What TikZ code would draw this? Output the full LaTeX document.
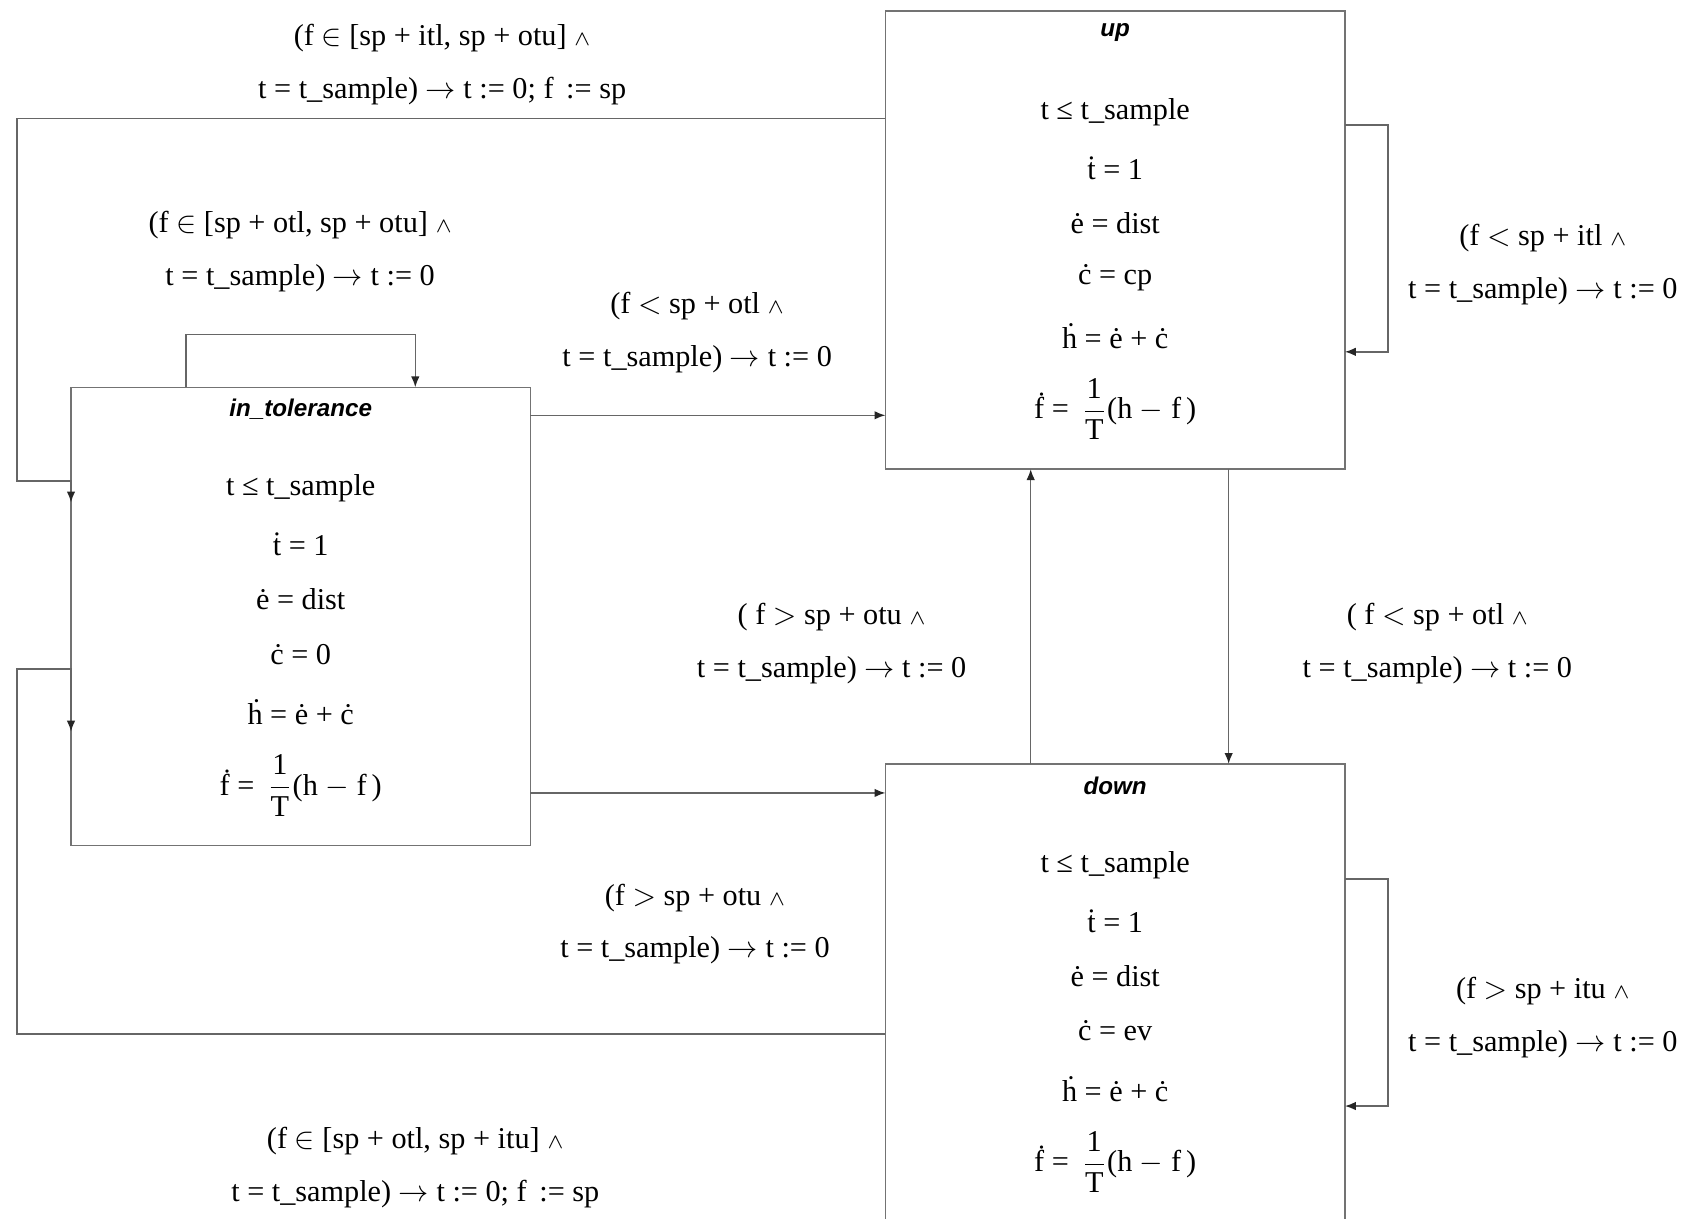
\documentclass[tikz,border=0pt]{standalone}
\usepackage{fontspec}
\setmainfont{Liberation Serif}
\newfontfamily\modefont{Liberation Sans}
\usetikzlibrary{arrows.meta,calc}

% one line of a mode's flow/invariant list, placed below the mode's top edge
\newcommand\modeline[4]{%
  \node[eqline] (#1-#2) at ($(#1.north)+(0,#3)$) {#4};}

% the full contents of a hybrid-automaton mode
\newcommand\modecontents[3]{%
  \node[modetitle] (#1-title) at ($(#1.north)+(0,20)$) {#2};
  \modeline{#1}{inv}{94}{t ≤ t\_sample}
  \modeline{#1}{dt}{146}{\.{t} = 1}
  \modeline{#1}{de}{197}{\.{e} = dist}
  \modeline{#1}{dc}{248}{\.{c} = #3}
  \modeline{#1}{dh}{302}{\.{h} = \.{e} + \.{c}}
  \modeline{#1}{df}{370}{\.{f} = \,\(\displaystyle\frac{\mbox{1}}{\mbox{T}}\)(h \(-\) f\,)}}

% small conjunction sign and implication arrow used in the guards
\newcommand\conj{\({\scriptstyle\wedge}\)}
\newcommand\yields{\(\rightarrow\)}

\begin{document}
\begin{tikzpicture}[x=0.125mm,y=-0.125mm,
  mode/.style={draw=black!55, line width=0.5pt, inner sep=0pt, outer sep=0pt,
    minimum width=53.375mm, anchor=north west},
  modetitle/.style={font=\modefont\bfseries\itshape\fontsize{8}{9.6}\selectfont, inner sep=0pt},
  eqline/.style={font=\fontsize{10}{12}\selectfont, inner sep=0pt},
  guard/.style={align=center, font=\fontsize{10}{17.4}\selectfont, inner sep=0pt},
  conn/.style={draw=black!60, line width=0.5pt,
    -{Latex[length=3.6pt,width=2.8pt,color=black!85]}}]

\useasboundingbox (0,0) rectangle (1568,1133);
\clip (0,0) rectangle (1568,1133);

% modes
\node[mode, minimum height=53.25mm] (it) at (66,360) {};
\node[mode, minimum height=53.25mm] (up) at (823,10) {};
\node[mode, minimum height=55mm] (down) at (823,710) {};

\modecontents{it}{in\_tolerance}{0}
\modecontents{up}{up}{cp}
\modecontents{down}{down}{ev}

% routing points
\coordinate (ua) at (16,110);
\coordinate (ub) at (16,447);
\coordinate (uc) at (16,467);
\coordinate (sa) at (173,311);
\coordinate (sb) at (386,311);
\coordinate (r1) at (0,386);
\coordinate (r2) at (0,737);
\coordinate (da) at (16,961);
\coordinate (db) at (16,622);
\coordinate (dc) at (16,680);
\coordinate (vx) at (958,0);
\coordinate (wx) at (1142,0);
\coordinate (ga) at (1290,116);
\coordinate (gb) at (1290,327);
\coordinate (ha) at (1290,817);
\coordinate (hb) at (1290,1028);

% transitions
\draw[conn] (up.west |- ua) -- (ua) -- (ub) -- (it.west |- ub) -- (it.west |- uc);
\draw[conn] (it.north -| sa) -- (sa) -- (sb) -- (it.north -| sb);
\draw[conn] (it.east |- r1) -- (up.west |- r1);
\draw[conn] (it.east |- r2) -- (down.west |- r2);
\draw[conn] (down.west |- da) -- (da) -- (db) -- (it.west |- db) -- (it.west |- dc);
\draw[conn] (down.north -| vx) -- (up.south -| vx);
\draw[conn] (up.south -| wx) -- (down.north -| wx);
\draw[conn] (up.east |- ga) -- (ga) -- (gb) -- (up.east |- gb);
\draw[conn] (down.east |- ha) -- (ha) -- (hb) -- (down.east |- hb);

% guards and resets
\node[guard] (gA) at (411,60) {(f \(\in\) [sp + itl, sp + otu] \conj\\ t = t\_sample) \yields{} t := 0; f\, := sp};
\node[guard] (gB) at (279,234) {(f \(\in\) [sp + otl, sp + otu] \conj\\ t = t\_sample) \yields{} t := 0};
\node[guard] (gC) at (648,309) {(f \(<\) sp + otl \conj\\ t = t\_sample) \yields{} t := 0};
\node[guard] (gD) at (773,598) {( f \(>\) sp + otu \conj\\ t = t\_sample) \yields{} t := 0};
\node[guard] (gE) at (646,859) {(f \(>\) sp + otu \conj\\ t = t\_sample) \yields{} t := 0};
\node[guard] (gF) at (386,1085) {(f \(\in\) [sp + otl, sp + itu] \conj\\ t = t\_sample) \yields{} t := 0; f\, := sp};
\node[guard] (gG) at (1434,246) {(f \(<\) sp + itl \conj\\ t = t\_sample) \yields{} t := 0};
\node[guard] (gH) at (1336,598) {( f \(<\) sp + otl \conj\\ t = t\_sample) \yields{} t := 0};
\node[guard] (gI) at (1434,946) {(f \(>\) sp + itu \conj\\ t = t\_sample) \yields{} t := 0};

\end{tikzpicture}
\end{document}
